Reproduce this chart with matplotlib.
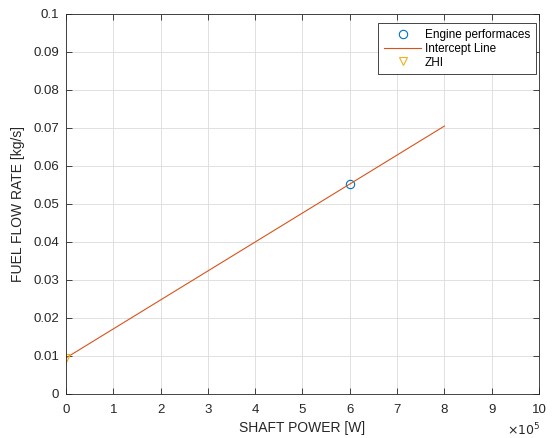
import numpy as np
import matplotlib.pyplot as plt

plt.rcParams['font.family'] = ['Liberation Sans', 'DejaVu Sans']

# engine data
shaft_power = [6.0e5]
fuel_flow = [0.0553]
zhi_power = [0.0]
zhi_fuel = [0.0095]
line_power = [0.0, 8.0e5]
line_fuel = [0.0095, 0.0705]

fig = plt.figure(figsize=(5.52, 4.38), dpi=100)
ax = fig.add_axes([0.1196, 0.1005, 0.8568, 0.8676])

ax.plot(shaft_power, fuel_flow, 'o', mfc='none', mec='#0072BD', ms=6, mew=0.8,
        label='Engine performaces')
ax.plot(line_power, line_fuel, '-', color='#D95319', lw=0.8, label='Intercept Line')
ax.plot(zhi_power, zhi_fuel, 'v', mfc='none', mec='#EDB120', ms=6, mew=0.8,
        label='ZHI')

ax.set_xlim(0, 1e6)
ax.set_ylim(0, 0.1)
ax.set_xticks(np.arange(0, 11) * 1e5)
ax.set_xticklabels([str(i) for i in range(11)])
ax.set_yticks(np.arange(0, 0.101, 0.01))
ax.set_yticklabels(['0'] + ['%.2f' % v for v in np.arange(0.01, 0.1, 0.01)] + ['0.1'])
ax.tick_params(direction='in', length=4, width=0.6, labelsize=9.5, colors='#262626',
               top=True, right=True)
ax.tick_params(axis='x', pad=7)
ax.tick_params(axis='y', pad=5)
for s in ax.spines.values():
    s.set_color('#262626')
    s.set_linewidth(0.6)
ax.grid(True, color='#dcdcdc', lw=0.6)
ax.set_axisbelow(True)

ax.set_xlabel('SHAFT POWER [W]', fontsize=10, color='#262626', labelpad=4)
ax.set_ylabel('FUEL FLOW RATE [kg/s]', fontsize=10, color='#262626', labelpad=6)
ax.text(1.003, -0.095, r'$\times10^5$', transform=ax.transAxes, ha='right', va='center',
        fontsize=9, color='#262626')

leg = ax.legend(loc='upper right', bbox_to_anchor=(0.994, 0.976), borderaxespad=0,
                fontsize=8.5, fancybox=False, framealpha=1, edgecolor='#262626',
                borderpad=0.5, labelspacing=0.15, handlelength=3.1, handletextpad=0.35)
leg.get_frame().set_linewidth(0.6)

fig.savefig('out.png', dpi=100)
